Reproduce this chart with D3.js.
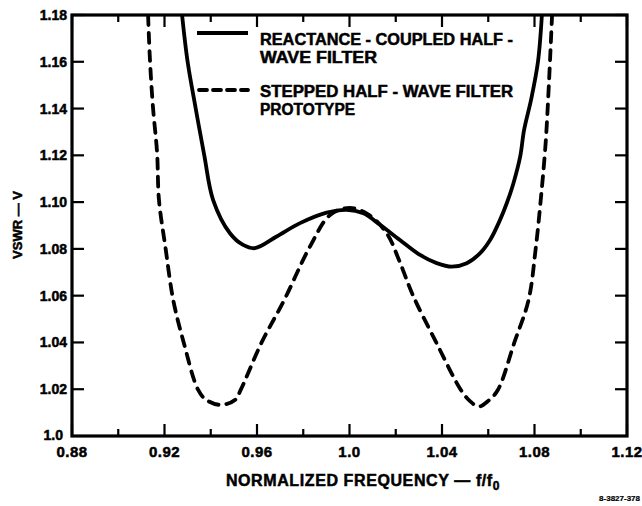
<!DOCTYPE html>
<html>
<head>
<meta charset="utf-8">
<script src="https://cdn.jsdelivr.net/npm/d3@7/dist/d3.min.js"></script>
<style>
  html, body { margin: 0; padding: 0; background: #fff; }
  svg { display: block; }
  text { font-family: "Liberation Sans", Arial, sans-serif; font-weight: bold; fill: #000; stroke: #000; stroke-width: 0.5px; }
</style>
</head>
<body>
<script>
// ---- data ----
const solidF = [0.9276, 0.9300, 0.9335, 0.9372, 0.9410, 0.9483, 0.9540, 0.9591, 0.9685, 0.9786, 0.9901, 0.9988,
                1.0060, 1.0132, 1.0218, 1.0305, 1.0377, 1.0442, 1.0507, 1.0565, 1.0608, 1.0651, 1.0680, 1.0709,
                1.0738, 1.0755, 1.0785, 1.0815, 1.0832];
const solidV = [1.180, 1.160, 1.140, 1.120, 1.101, 1.0867, 1.0817, 1.0803, 1.0853, 1.0910, 1.0955, 1.0967,
                1.0952, 1.0903, 1.0838, 1.0774, 1.0739, 1.0724, 1.0739, 1.0782, 1.0838, 1.0924, 1.0995, 1.1081,
                1.1194, 1.1309, 1.1437, 1.160, 1.180];

const dashedF = [0.9129, 0.9137, 0.9150, 0.9168, 0.9176, 0.9205, 0.9238, 0.9283, 0.9345, 0.9380, 0.9443, 0.9506,
                 0.9530, 0.9620, 0.9717, 0.9829, 0.9916, 1.0000, 1.0080, 1.0161, 1.0215, 1.0275,
                 1.0375, 1.0481, 1.0520, 1.0560, 1.0600, 1.0642, 1.0713, 1.0774, 1.0805, 1.0828, 1.0848, 1.0862, 1.0876];
const dashedV = [1.180, 1.161, 1.1407, 1.121, 1.101, 1.080, 1.058, 1.040, 1.0198, 1.0155, 1.0133, 1.0155,
                 1.0198, 1.040, 1.058, 1.081, 1.0945, 1.0975, 1.0948, 1.0867, 1.075, 1.060,
                 1.040, 1.0198, 1.0150, 1.0126, 1.0150, 1.0198, 1.040, 1.058, 1.080, 1.102, 1.125, 1.150, 1.180];

const xTickValues = [0.88, 0.92, 0.96, 1.00, 1.04, 1.08, 1.12];
const xTickLabels = ["0.88", "0.92", "0.96", "1.0", "1.04", "1.08", "1.12"];
const xMinorValues = [0.90, 0.94, 0.98, 1.02, 1.06, 1.10];
const yTickValues = [1.02, 1.04, 1.06, 1.08, 1.10, 1.12, 1.14, 1.16, 1.18];
const yTickLabels = ["1.02", "1.04", "1.06", "1.08", "1.10", "1.12", "1.14", "1.16", "1.18"];
const yBottomLabel = "1.0";

const legendSolid = ["REACTANCE - COUPLED HALF -", "WAVE FILTER"];
const legendDashed = ["STEPPED HALF - WAVE FILTER", "PROTOTYPE"];
const xTitle = "NORMALIZED FREQUENCY \u2014 f/f";
const xTitleSub = "0";
const yTitle = "VSWR \u2014 V";
const codeLabel = "8-3827-378";

// ---- layout ----
const W = 642, H = 506;
const L = 72, R = 627, T = 15, B = 436;

const x = d3.scaleLinear().domain([0.88, 1.12]).range([L, R]);
const y = d3.scaleLinear().domain([1.0, 1.18]).range([B, T]);

const svg = d3.select("body").append("svg").attr("width", W).attr("height", H);

svg.append("defs").append("clipPath").attr("id", "plot")
  .append("rect").attr("x", L).attr("y", T).attr("width", R - L).attr("height", B - T);

// ticks (inward)
const tickG = svg.append("g").attr("stroke", "#000").attr("stroke-width", 2.2);
xTickValues.forEach(v => {
  tickG.append("line").attr("x1", x(v)).attr("x2", x(v)).attr("y1", B).attr("y2", B - 12);
  tickG.append("line").attr("x1", x(v)).attr("x2", x(v)).attr("y1", T).attr("y2", T + 12);
});
xMinorValues.forEach(v => {
  tickG.append("line").attr("x1", x(v)).attr("x2", x(v)).attr("y1", B).attr("y2", B - 7);
  tickG.append("line").attr("x1", x(v)).attr("x2", x(v)).attr("y1", T).attr("y2", T + 7);
});
yTickValues.forEach(v => {
  tickG.append("line").attr("x1", L).attr("x2", L + 12).attr("y1", y(v)).attr("y2", y(v));
  tickG.append("line").attr("x1", R).attr("x2", R - 12).attr("y1", y(v)).attr("y2", y(v));
});

// frame
svg.append("rect").attr("x", L).attr("y", T).attr("width", R - L).attr("height", B - T)
  .attr("fill", "none").attr("stroke", "#000").attr("stroke-width", 3.2);

// curves
const line = d3.line().x(d => x(d[0])).y(d => y(d[1])).curve(d3.curveCatmullRom.alpha(0.5));
const solidData = solidF.map((f, i) => [f, solidV[i]]);
const dashedData = dashedF.map((f, i) => [f, dashedV[i]]);

const curves = svg.append("g").attr("clip-path", "url(#plot)");
curves.append("path").datum(solidData).attr("d", line)
  .attr("fill", "none").attr("stroke", "#000").attr("stroke-width", 3.8).attr("stroke-linejoin", "round");
curves.append("path").datum(dashedData).attr("d", line)
  .attr("fill", "none").attr("stroke", "#000").attr("stroke-width", 3.8)
  .attr("stroke-dasharray", "10,8").attr("stroke-linecap", "round");

// axis labels
xTickValues.forEach((v, i) => {
  svg.append("text").attr("x", x(v)).attr("y", 457).attr("text-anchor", "middle")
    .attr("font-size", 15).attr("letter-spacing", 0.5).text(xTickLabels[i]);
});
yTickValues.forEach((v, i) => {
  svg.append("text").attr("x", 67).attr("y", y(v) + 5).attr("text-anchor", "end")
    .attr("font-size", 14).text(yTickLabels[i]);
});
svg.append("text").attr("x", 63).attr("y", 440).attr("text-anchor", "end")
  .attr("font-size", 14).text(yBottomLabel);

// titles
const xt = svg.append("text").attr("x", 363).attr("y", 486).attr("text-anchor", "middle")
  .attr("font-size", 16).attr("letter-spacing", 0.6);
xt.append("tspan").text(xTitle);
xt.append("tspan").attr("dy", 4).attr("font-size", 12).text(xTitleSub);

svg.append("text").attr("transform", "translate(22,225) rotate(-90)")
  .attr("text-anchor", "middle").attr("font-size", 13).text(yTitle);

svg.append("text").attr("x", 640).attr("y", 501).attr("text-anchor", "end")
  .attr("font-size", 8).style("stroke-width", "0.2px").text(codeLabel);

// legend
svg.append("line").attr("x1", 197).attr("x2", 248).attr("y1", 33).attr("y2", 33)
  .attr("stroke", "#000").attr("stroke-width", 3.8);
svg.append("line").attr("x1", 199).attr("x2", 248).attr("y1", 90).attr("y2", 90)
  .attr("stroke", "#000").attr("stroke-width", 3.8).attr("stroke-dasharray", "8,6").attr("stroke-linecap", "round");

const legendLen = [253, 117];
legendSolid.forEach((t, i) => {
  svg.append("text").attr("x", 260).attr("y", 45 + i * 18).attr("font-size", 16)
    .attr("textLength", legendLen[i]).attr("lengthAdjust", "spacingAndGlyphs").text(t);
});
const legendLen2 = [253, 95];
legendDashed.forEach((t, i) => {
  svg.append("text").attr("x", 260).attr("y", 97 + i * 18).attr("font-size", 16)
    .attr("textLength", legendLen2[i]).attr("lengthAdjust", "spacingAndGlyphs").text(t);
});
</script>
</body>
</html>
